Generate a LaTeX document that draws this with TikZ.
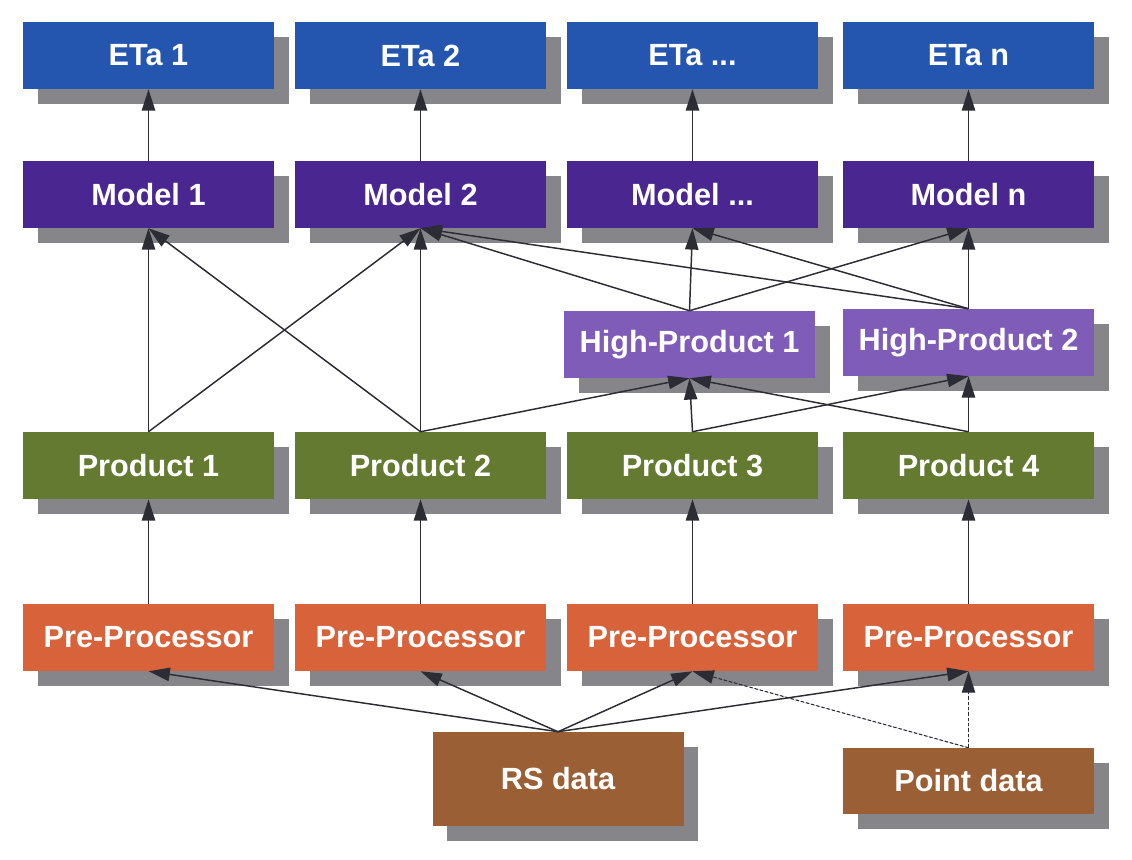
\documentclass[tikz,border=0pt]{standalone}
\usepackage{fontspec}
\setmainfont{Liberation Sans}
\usetikzlibrary{shadows,arrows.meta}
\definecolor{etac}{HTML}{2456AF}
\definecolor{modc}{HTML}{4A2790}
\definecolor{hpc}{HTML}{7F5CB8}
\definecolor{prodc}{HTML}{647A31}
\definecolor{prec}{HTML}{D8623A}
\definecolor{datac}{HTML}{9B5F36}
\definecolor{shadowc}{HTML}{86868A}
\definecolor{linec}{HTML}{2C2C34}
\begin{document}
\begin{tikzpicture}[x=0.75pt,y=-0.75pt,
  box/.style={minimum width=188.25pt, minimum height=50.25pt, inner sep=0pt,
    text=white, font=\fontsize{23}{27}\selectfont\bfseries,
    drop shadow={shadow xshift=11pt, shadow yshift=-11pt, fill=shadowc, opacity=1}},
  arr/.style={-{Triangle[length=16pt,width=10pt]}, line width=1.1pt, draw=linec, fill=linec},
  darr/.style={arr, line width=0.8pt, dash pattern=on 2.5pt off 1.5pt}]
\useasboundingbox (0,0) rectangle (1132,860);

% ETa row
\node[box, fill=etac] (e1) at (148.5,55.5) {ETa 1};
\node[box, fill=etac] (e2) at (420.5,55.5) {ETa 2};
\node[box, fill=etac] (e3) at (692.5,55.5) {ETa ...};
\node[box, fill=etac] (e4) at (968.5,55.5) {ETa n};
% Model row
\node[box, fill=modc] (m1) at (148.5,194.5) {Model 1};
\node[box, fill=modc] (m2) at (420.5,194.5) {Model 2};
\node[box, fill=modc] (m3) at (692.5,194.5) {Model ...};
\node[box, fill=modc] (m4) at (968.5,194.5) {Model n};
% High products
\node[box, fill=hpc] (h1) at (689.5,344.5) {High-Product 1};
\node[box, fill=hpc] (h2) at (968.5,342.5) {High-Product 2};
% Products
\node[box, fill=prodc] (p1) at (148.5,465.5) {Product 1};
\node[box, fill=prodc] (p2) at (420.5,465.5) {Product 2};
\node[box, fill=prodc] (p3) at (692.5,465.5) {Product 3};
\node[box, fill=prodc] (p4) at (968.5,465.5) {Product 4};
% Pre-processors
\node[box, fill=prec] (r1) at (148.5,637.5) {Pre-Processor};
\node[box, fill=prec] (r2) at (420.5,637.5) {Pre-Processor};
\node[box, fill=prec] (r3) at (692.5,637.5) {Pre-Processor};
\node[box, fill=prec] (r4) at (968.5,637.5) {Pre-Processor};
% Data
\node[box, fill=datac, minimum height=70.5pt] (rs) at (558,779) {RS data};
\node[box, fill=datac, minimum height=49.5pt] (pt) at (968.5,781) {Point data};

% Model -> ETa
\draw[arr] (m1.north) -- (e1.south);
\draw[arr] (m2.north) -- (e2.south);
\draw[arr] (m3.north) -- (e3.south);
\draw[arr] (m4.north) -- (e4.south);
% Product -> Model / HP
\draw[arr] (p1.north) -- (m1.south);
\draw[arr] (p1.north) -- (m2.south);
\draw[arr] (p2.north) -- (m1.south);
\draw[arr] (p2.north) -- (m2.south);
\draw[arr] (p2.north) -- (h1.south);
\draw[arr] (p3.north) -- (h1.south);
\draw[arr] (p3.north) -- (h2.south);
\draw[arr] (p4.north) -- (h2.south);
\draw[arr] (p4.north) -- (h1.south);
% HP -> Model
\draw[arr] (h1.north) -- (m2.south);
\draw[arr] (h1.north) -- (m3.south);
\draw[arr] (h1.north) -- (m4.south);
\draw[arr] (h2.north) -- (m2.south);
\draw[arr] (h2.north) -- (m3.south);
\draw[arr] (h2.north) -- (m4.south);
% Pre -> Product
\draw[arr] (r1.north) -- (p1.south);
\draw[arr] (r2.north) -- (p2.south);
\draw[arr] (r3.north) -- (p3.south);
\draw[arr] (r4.north) -- (p4.south);
% Data -> Pre
\draw[arr] (rs.north) -- (r1.south);
\draw[arr] (rs.north) -- (r2.south);
\draw[arr] (rs.north) -- (r3.south);
\draw[arr] (rs.north) -- (r4.south);
\draw[darr] (pt.north) -- (r3.south);
\draw[darr] (pt.north) -- (r4.south);
\end{tikzpicture}
\end{document}
